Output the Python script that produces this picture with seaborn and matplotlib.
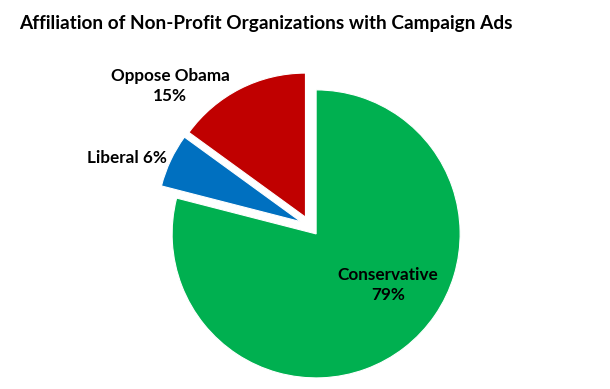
import matplotlib
matplotlib.use("Agg")
import matplotlib.pyplot as plt
import seaborn as sns

sns.set_theme(style="white")
plt.rcParams['font.family'] = ['Lato', 'DejaVu Sans']

categories = ["Conservative", "Liberal", "Oppose Obama"]
shares = [79, 6, 15]
colors = ["#00B050", "#0070C0", "#C00000"]

fig = plt.figure(figsize=(6.10, 3.89), dpi=100)
ax = fig.add_axes([0, 0, 1, 1])

ax.pie(shares, colors=colors, startangle=90, counterclock=False,
       radius=144, center=(310, 163), explode=[10, 10, 10],
       wedgeprops=dict(edgecolor="white", linewidth=0.8), frame=True)
ax.set_xlim(0, 610)
ax.set_ylim(0, 389)
ax.set_aspect("equal")
ax.axis("off")

label_pos = {"Conservative": (388, 104), "Liberal": (127, 231), "Oppose Obama": (170, 303)}
for cat, val in zip(categories, shares):
    txt = f"{cat} {val}%" if cat == "Liberal" else f"{cat}\n{val}%"
    x, y = label_pos[cat]
    ax.text(x, y, txt, ha="center", va="center", fontsize=12.3, fontweight="bold",
            color="black", linespacing=1.25)

fig.text(266 / 610, 1 - 24 / 389, "Affiliation of Non-Profit Organizations with Campaign Ads",
         ha="center", va="center", fontsize=13.7, fontweight="bold", color="black")

fig.savefig("out.png", dpi=100)
